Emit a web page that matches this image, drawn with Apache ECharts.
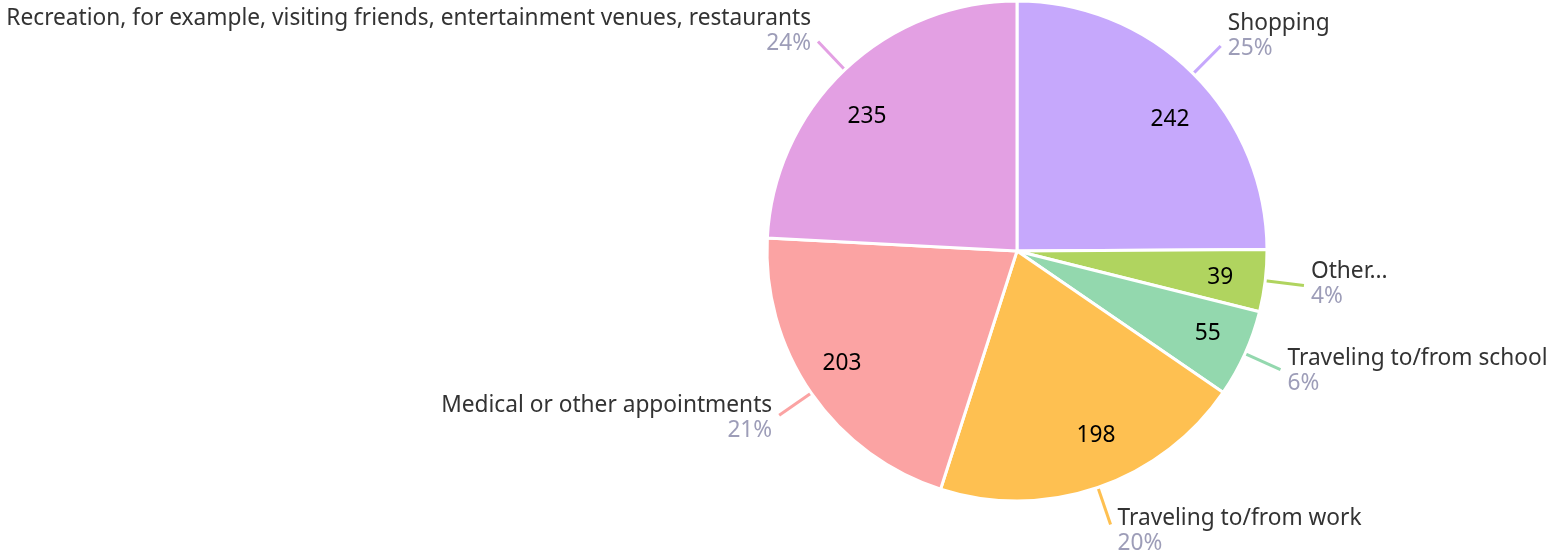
<!DOCTYPE html>
<html>
<head>
<meta charset="utf-8">
<script src="https://cdn.jsdelivr.net/npm/echarts@6/dist/echarts.min.js"></script>
<style>
  html, body { margin: 0; padding: 0; background: #ffffff; }
  #chart { width: 1555px; height: 553px; }
</style>
</head>
<body>
<div id="chart"></div>
<script>
// Trip purposes, clockwise from 12 o'clock
const categories = [
  'Shopping',
  'Other...',
  'Traveling to/from school',
  'Traveling to/from work',
  'Medical or other appointments',
  'Recreation, for example, visiting friends, entertainment venues, restaurants'
];
const counts = [242, 39, 55, 198, 203, 235];
const sliceColors = ['#c6a8fc', '#b0d45f', '#93d8ae', '#fec051', '#fba3a3', '#e3a0e3'];

const FONT = '"Noto Sans", "DejaVu Sans", sans-serif';
const FS = 22.7;
const CX = 1017, CY = 251, R = 250;
const total = counts.reduce((a, b) => a + b, 0);

const pieData = categories.map((name, i) => ({
  name: name,
  value: counts[i],
  itemStyle: { color: sliceColors[i] },
  labelLine: { lineStyle: { color: sliceColors[i] } }
}));

const chart = echarts.init(document.getElementById('chart'), null, { renderer: 'canvas' });
// series box is widened to the left so the long label is not wrapped
const OFFSET = 100;
const box = { left: -OFFSET, top: 0, width: 1555 + OFFSET, height: 553 };

chart.setOption({
  animation: false,
  series: [
    Object.assign({
      type: 'pie',
      center: [CX + OFFSET, CY],
      radius: [0, R],
      startAngle: 90,
      clockwise: true,
      itemStyle: { borderColor: '#ffffff', borderWidth: 3 },
      label: {
        show: true,
        position: 'outside',
        bleedMargin: 0,
        distanceToLabelLine: 7,
        formatter: p => '{n|' + p.name + '}\n{p|' + Math.round(p.value / total * 100) + '%}',
        rich: {
          n: { fontFamily: FONT, fontSize: FS, color: '#333333', lineHeight: 25 },
          p: { fontFamily: FONT, fontSize: FS, color: '#9d9db8', lineHeight: 25 }
        }
      },
      labelLine: { show: true, length: 39, length2: 0, smooth: false, lineStyle: { width: 3 } },
      // upper labels sit a little higher than the end of their leader line
      labelLayout: function (params) {
        const pts = params.labelLinePoints;
        if (!pts) return {};
        const up = (CY - pts[0][1]) / R;
        return { dy: -3 - 10 * up };
      },
      data: pieData
    }, box),
    Object.assign({
      // value labels set inside each slice near the rim
      type: 'pie',
      center: [CX + OFFSET, CY],
      radius: [150, R],
      startAngle: 90,
      clockwise: true,
      silent: true,
      itemStyle: { color: 'rgba(0,0,0,0)' },
      label: {
        show: true,
        position: 'inside',
        formatter: p => String(p.value),
        fontFamily: FONT,
        fontSize: FS,
        color: '#000000'
      },
      labelLine: { show: false },
      labelLayout: function (params) {
        const r = params.labelRect;
        const dx0 = r.x + r.width / 2 - CX;
        const dy0 = r.y + r.height / 2 - CY;
        const d = Math.hypot(dx0, dy0) || 1;
        const s = dx0 / d, c = -dy0 / d;
        return { dx: 14 * Math.sign(s) * Math.abs(c), dy: 4 + 12 * c };
      },
      data: categories.map((name, i) => ({ name: name, value: counts[i] }))
    }, box)
  ]
});
</script>
</body>
</html>
